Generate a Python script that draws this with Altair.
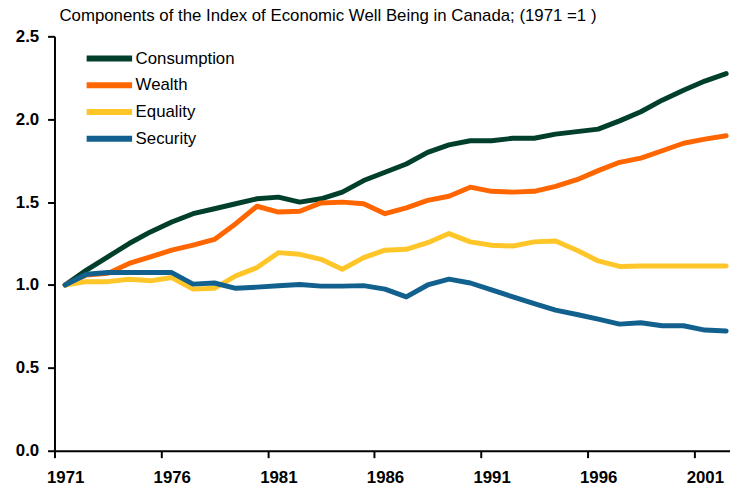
import altair as alt
import pandas as pd

years = list(range(1971, 2003))
consumption = [1.00, 1.09, 1.17, 1.25, 1.32, 1.38, 1.43, 1.46, 1.49, 1.52, 1.53, 1.50, 1.52, 1.56, 1.63, 1.68,
               1.73, 1.80, 1.845, 1.87, 1.87, 1.885, 1.885, 1.91, 1.925, 1.94, 1.99, 2.045, 2.115, 2.175, 2.23, 2.275]
wealth = [1.00, 1.06, 1.07, 1.13, 1.17, 1.21, 1.24, 1.275, 1.37, 1.475, 1.44, 1.445, 1.495, 1.50, 1.49, 1.43,
          1.465, 1.51, 1.535, 1.59, 1.565, 1.56, 1.565, 1.595, 1.635, 1.69, 1.74, 1.765, 1.81, 1.855, 1.88, 1.90]
equality = [1.00, 1.02, 1.02, 1.035, 1.025, 1.045, 0.975, 0.98, 1.055, 1.105, 1.195, 1.185, 1.155, 1.095, 1.165, 1.21,
            1.215, 1.255, 1.31, 1.26, 1.24, 1.235, 1.26, 1.265, 1.21, 1.145, 1.112, 1.115, 1.115, 1.115, 1.115, 1.115]
security = [1.00, 1.065, 1.075, 1.075, 1.075, 1.075, 1.005, 1.012, 0.98, 0.987, 0.995, 1.003, 0.993, 0.993, 0.996, 0.975,
            0.928, 1.00, 1.035, 1.012, 0.97, 0.928, 0.888, 0.848, 0.822, 0.794, 0.764, 0.772, 0.754, 0.754, 0.728, 0.722]

series = ["Consumption", "Wealth", "Equality", "Security"]
colors = ["#003F2C", "#FF6600", "#FFC629", "#12608E"]
x_labels = [1971, 1976, 1981, 1986, 1991, 1996, 2001]
y_ticks = [0.0, 0.5, 1.0, 1.5, 2.0, 2.5]

rows = []
for name, vals in zip(series, [consumption, wealth, equality, security]):
    for yr, v in zip(years, vals):
        rows.append({"year": yr, "series": name, "value": v})
df = pd.DataFrame(rows)

chart = alt.Chart(df).mark_line(strokeWidth=5, strokeCap="round", strokeJoin="round").encode(
    x=alt.X("year:Q",
            scale=alt.Scale(domain=[1970.5, 2002.18], nice=False, zero=False),
            axis=alt.Axis(values=x_labels, format="d", tickOffset=-10.8, labelOffset=10.8,
                          title=None, labelPadding=12)),
    y=alt.Y("value:Q",
            scale=alt.Scale(domain=[0, 2.5], nice=False),
            axis=alt.Axis(values=y_ticks, format=".1f", title=None, labelPadding=9)),
    color=alt.Color("series:N", sort=series,
                    scale=alt.Scale(domain=series, range=colors),
                    legend=alt.Legend(title=None, orient="none", legendX=47, legendY=14, padding=0,
                                      symbolType="M-4.6,0H4.6", symbolSize=100, symbolStrokeWidth=6,
                                      labelFontSize=17, labelFont="Liberation Sans", labelColor="black",
                                      labelOffset=18, rowPadding=2, labelLimit=300)),
).properties(
    width=683, height=419,
    title=alt.TitleParams("Components of the Index of Economic Well Being in Canada; (1971 =1 )",
                          anchor="start", frame="group", fontSize=17, fontWeight="normal",
                          font="Liberation Sans", color="black", dx=5, offset=2),
    autosize=alt.AutoSizeParams(type="none"),
    padding={"left": 47, "top": 26, "right": 0, "bottom": 33},
).configure_view(stroke=None).configure_axis(
    grid=False, domainColor="black", domainWidth=2, tickColor="black", tickWidth=2, tickSize=7,
    labelFont="Liberation Sans", labelFontWeight="bold", labelFontSize=17, labelColor="black",
)

chart.save("out.html", embed_options={"renderer": "svg", "actions": False})
